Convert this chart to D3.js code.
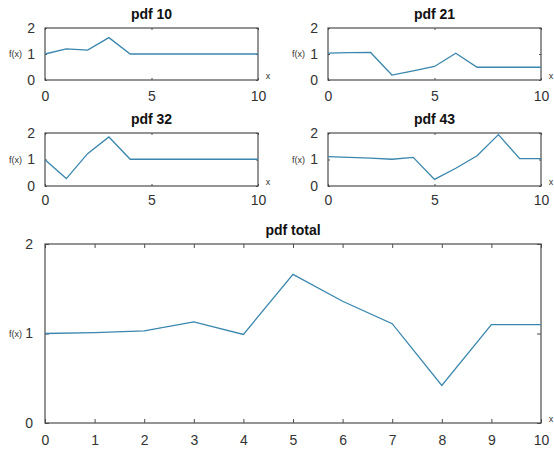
<!DOCTYPE html>
<html>
<head>
<meta charset="utf-8">
<script src="https://cdn.jsdelivr.net/npm/d3@7"></script>
<style>
  body { margin: 0; background: #fff; }
  svg { display: block; font-family: "Liberation Sans", Arial, sans-serif; }
</style>
</head>
<body>
<div id="chart"></div>
<script>
// x positions shared by every pdf
const xVals = [0, 1, 2, 3, 4, 5, 6, 7, 8, 9, 10];

// values
const pdf10 = [1.0, 1.2, 1.15, 1.63, 1.0, 1.0, 1.0, 1.0, 1.0, 1.0, 1.0];
const pdf21 = [1.03, 1.05, 1.06, 0.19, 0.35, 0.52, 1.03, 0.49, 0.49, 0.49, 0.49];
const pdf32 = [0.99, 0.28, 1.22, 1.85, 1.01, 1.01, 1.01, 1.01, 1.01, 1.01, 1.01];
const pdf43 = [1.11, 1.08, 1.05, 1.01, 1.08, 0.25, 0.67, 1.14, 1.94, 1.03, 1.03];
const pdfTotal = [1.0, 1.01, 1.03, 1.13, 0.99, 1.66, 1.36, 1.11, 0.42, 1.10, 1.10];

const titles = ['pdf 10', 'pdf 21', 'pdf 32', 'pdf 43', 'pdf total'];
const smallXTicks = [0, 5, 10];
const bigXTicks = [0, 1, 2, 3, 4, 5, 6, 7, 8, 9, 10];
const yTicks = [0, 1, 2];

const W = 554, H = 452;
const axisCol = '#4d4d4d';
const lineCol = '#3a86ad';

const svg = d3.select('#chart').append('svg')
  .attr('width', W)
  .attr('height', H);

// one subplot, matlab style: box, inward ticks on all sides
function panel(box, values, title, xTicks){
  const x = d3.scaleLinear().domain([0, 10]).range([box.x0, box.x1]);
  const y = d3.scaleLinear().domain([0, 2]).range([box.y1, box.y0]);
  const tl = box.tick;
  const fmt = d3.format('d');

  const g = svg.append('g');

  // bottom + top
  g.append('g')
    .attr('transform', `translate(0,${box.y1})`)
    .call(d3.axisBottom(x).tickValues(xTicks).tickFormat(fmt).tickSizeInner(-tl).tickSizeOuter(0).tickPadding(box.xpad))
    .call(a => a.select('.domain').remove());
  g.append('g')
    .attr('transform', `translate(0,${box.y0})`)
    .call(d3.axisTop(x).tickValues(xTicks).tickSizeInner(-tl).tickSizeOuter(0).tickFormat(''))
    .call(a => a.select('.domain').remove());
  // left + right
  g.append('g')
    .attr('transform', `translate(${box.x0},0)`)
    .call(d3.axisLeft(y).tickValues(yTicks).tickFormat(fmt).tickSizeInner(-tl).tickSizeOuter(0).tickPadding(tl + 8))
    .call(a => a.select('.domain').remove());
  g.append('g')
    .attr('transform', `translate(${box.x1},0)`)
    .call(d3.axisRight(y).tickValues(yTicks).tickSizeInner(-tl).tickSizeOuter(0).tickFormat(''))
    .call(a => a.select('.domain').remove());

  g.selectAll('.tick line').attr('stroke', axisCol);
  g.selectAll('.tick text')
    .attr('fill', '#333')
    .style('font-size', '14px')
    .style('font-family', '"Liberation Sans", Arial, sans-serif');

  g.append('rect')
    .attr('x', box.x0).attr('y', box.y0)
    .attr('width', box.x1 - box.x0).attr('height', box.y1 - box.y0)
    .attr('fill', 'none')
    .attr('stroke', axisCol)
    .attr('stroke-width', 1.2);

  const line = d3.line()
    .x((d, i) => x(xVals[i]))
    .y(d => y(d));

  g.append('path')
    .datum(values)
    .attr('d', line)
    .attr('fill', 'none')
    .attr('stroke', lineCol)
    .attr('stroke-width', 1.3);

  g.append('text')
    .attr('x', (box.x0 + box.x1) / 2)
    .attr('y', box.y0 - 9)
    .attr('text-anchor', 'middle')
    .style('font-weight', 'bold')
    .style('font-size', '14px')
    .attr('fill', '#111')
    .text(title);

  // axis labels
  g.append('text')
    .attr('x', box.x0 - 23)
    .attr('y', y(1) + 3)
    .attr('text-anchor', 'end')
    .style('font-size', '9px')
    .attr('fill', '#333')
    .text('f(x)');
  g.append('text')
    .attr('x', box.x1 + 10)
    .attr('y', box.y1 - 1)
    .attr('text-anchor', 'middle')
    .style('font-size', '9px')
    .attr('fill', '#333')
    .text('x');
}

panel({x0: 45, x1: 258, y0: 28, y1: 80, tick: 2, xpad: 11}, pdf10, titles[0], smallXTicks);
panel({x0: 328, x1: 541, y0: 28, y1: 80, tick: 2, xpad: 11}, pdf21, titles[1], smallXTicks);
panel({x0: 45, x1: 258, y0: 133, y1: 186, tick: 2, xpad: 9}, pdf32, titles[2], smallXTicks);
panel({x0: 328, x1: 541, y0: 133, y1: 186, tick: 2, xpad: 9}, pdf43, titles[3], smallXTicks);
panel({x0: 45, x1: 541, y0: 244, y1: 423, tick: 4, xpad: 12}, pdfTotal, titles[4], bigXTicks);
</script>
</body>
</html>
